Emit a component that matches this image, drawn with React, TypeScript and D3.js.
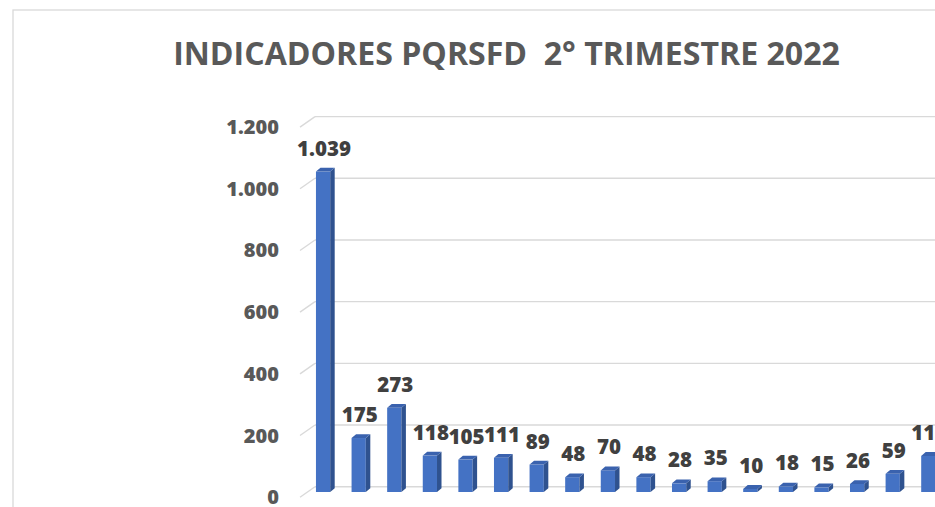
import React from "react";
import * as d3 from "d3";

// PQRSFD indicators, 2nd quarter 2022 (last bar is cut off in the source)
const categories = [
  "1", "2", "3", "4", "5", "6", "7", "8", "9",
  "10", "11", "12", "13", "14", "15", "16", "17", "18",
];
const values = [1039, 175, 273, 118, 105, 111, 89, 48, 70, 48, 28, 35, 10, 18, 15, 26, 59, 117];
const yTicks = [0, 200, 400, 600, 800, 1000, 1200];
const title = "INDICADORES PQRSFD  2° TRIMESTRE 2022";

const W = 935;
const H = 507;
const FONT = "'Open Sans', 'DejaVu Sans', sans-serif";

const esLocale = d3.formatLocale({
  decimal: ",",
  thousands: ".",
  grouping: [3],
  currency: ["", "€"],
});
const fmt = esLocale.format(",d");

const App: React.FC = () => {
  // back wall of the 3d plot
  const y = d3.scaleLinear().domain([0, 1200]).range([486.7, 116.6]);
  const x = d3
    .scaleBand<string>()
    .domain(categories)
    .range([294.6, 956.8])
    .padding(0.6);

  const wallX = 315; // back wall left edge
  const depthX = 15; // floor depth (front is left/down)
  const depthY = 10.5;
  const barShift = 5.3; // bars sit half way into the floor
  const sideX = 4.5; // bar depth
  const sideY = 3.8;
  const bw = x.bandwidth();

  return (
    <div style={{ position: "absolute", left: 0, top: 0, width: W, height: H, overflow: "hidden" }}>
      <svg width={W} height={H} style={{ display: "block", background: "#fff" }}>
        {/* chart border */}
        <rect x={13} y={10} width={1000} height={600} fill="#fff" stroke="#d9d9d9" strokeWidth={1.3} />

        <text
          x={506.5}
          y={65}
          textAnchor="middle"
          fontFamily={FONT}
          fontWeight={700}
          fontSize={32.1}
          fill="#595959"
          style={{ whiteSpace: "pre" }}
        >
          {title}
        </text>

        {/* gridlines */}
        {yTicks.map((t) => (
          <g key={t}>
            <line x1={wallX} x2={W + 20} y1={y(t)} y2={y(t)} stroke="#d9d9d9" strokeWidth={1.4} />
            <line
              x1={wallX - depthX}
              y1={y(t) + depthY}
              x2={wallX}
              y2={y(t)}
              stroke="#d9d9d9"
              strokeWidth={1.4}
            />
            <text
              x={279}
              y={y(t) + depthY + 7}
              textAnchor="end"
              fontFamily={FONT}
              fontWeight={800}
              fontSize={20}
              fill="#595959"
            >
              {fmt(t)}
            </text>
          </g>
        ))}

        {/* bars */}
        {values.map((v, i) => {
          const x0 = x(categories[i]) as number;
          const yTop = y(v) + barShift;
          const yBot = y(0) + barShift;
          const side = `${x0 + bw},${yTop} ${x0 + bw + sideX},${yTop - sideY} ${x0 + bw + sideX},${yBot - sideY} ${x0 + bw},${yBot}`;
          const top = `${x0},${yTop} ${x0 + sideX},${yTop - sideY} ${x0 + bw + sideX},${yTop - sideY} ${x0 + bw},${yTop}`;
          return (
            <g key={categories[i]}>
              <rect x={x0} y={yTop} width={bw} height={yBot - yTop} fill="#4472C4" />
              <polygon points={side} fill="#2F528F" />
              <polygon points={top} fill="#3A62AE" />
              <text
                x={x0 + bw / 2 + 1}
                y={yTop - 16}
                textAnchor="middle"
                fontFamily={FONT}
                fontWeight={800}
                fontSize={20.5}
                fill="#404040"
              >
                {fmt(v)}
              </text>
            </g>
          );
        })}
      </svg>
    </div>
  );
};

export default App;
